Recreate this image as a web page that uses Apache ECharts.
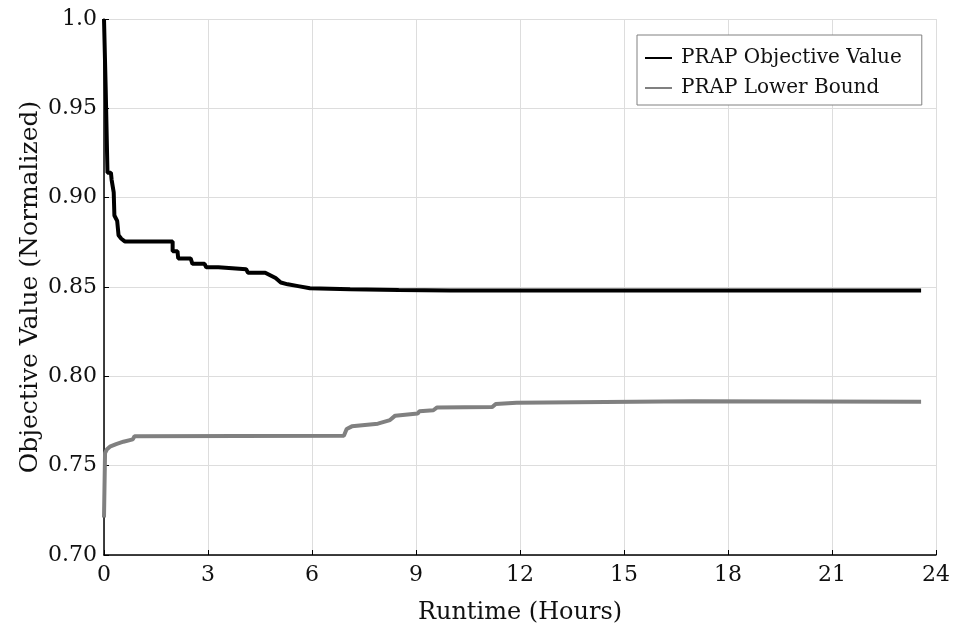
<!DOCTYPE html>
<html>
<head>
<meta charset="utf-8">
<script src="https://cdn.jsdelivr.net/npm/echarts@6/dist/echarts.min.js"></script>
<style>html,body{margin:0;padding:0;background:#fff}#c{width:954px;height:631px}</style>
</head>
<body>
<div id="c"></div>
<script>
// Data
const objHours = [0, 0.05, 0.1, 0.2, 0.22, 0.28, 0.3, 0.38, 0.42, 0.5, 0.6, 1.98, 1.98, 2.12, 2.14, 2.5, 2.55, 2.9, 2.95, 3.3, 3.35, 4.1, 4.15, 4.65, 4.95, 5.1, 5.3, 5.6, 5.94, 7.1, 8.5, 10, 23.57];
const objValues = [1.0, 0.96, 0.914, 0.914, 0.91, 0.903, 0.89, 0.887, 0.879, 0.877, 0.8755, 0.8755, 0.870, 0.870, 0.866, 0.866, 0.863, 0.863, 0.861, 0.861, 0.860, 0.860, 0.858, 0.858, 0.855, 0.8525, 0.8515, 0.8505, 0.8493, 0.8487, 0.8483, 0.848, 0.848];
const lbHours = [0, 0.03, 0.08, 0.17, 0.35, 0.56, 0.83, 0.88, 6.92, 7.0, 7.15, 7.9, 7.95, 8.25, 8.4, 9.05, 9.1, 9.5, 9.6, 11.2, 11.3, 11.9, 17, 23.57];
const lbValues = [0.721, 0.757, 0.759, 0.7606, 0.762, 0.7634, 0.7647, 0.7665, 0.7668, 0.7705, 0.772, 0.7735, 0.7745, 0.7755, 0.778, 0.7792, 0.7805, 0.781, 0.7825, 0.7828, 0.7845, 0.7852, 0.786, 0.7858];
const seriesNames = ['PRAP Objective Value', 'PRAP Lower Bound'];
const xTicks = {min: 0, max: 24, interval: 3};
const yTicks = {min: 0.70, max: 1.0, interval: 0.05};

const zip = (a, b) => a.map((v, i) => [v, b[i]]);
const font = 'DejaVu Serif';
const chart = echarts.init(document.getElementById('c'), null, {renderer: 'canvas'});
chart.setOption({
  animation: false,
  backgroundColor: '#fff',
  grid: {left: 104, right: 18, top: 19, bottom: 76, containLabel: false},
  textStyle: {fontFamily: font},
  legend: {
    left: 637, top: 35, orient: 'vertical',
    padding: [13, 20, 7, 8],
    itemGap: 10,
    borderColor: '#808080', borderWidth: 1, backgroundColor: '#fff',
    itemWidth: 27, itemHeight: 2, icon: 'rect',
    textStyle: {fontFamily: font, fontSize: 20, color: '#111', padding: [0, 0, 0, 4]},
    data: seriesNames
  },
  xAxis: {
    type: 'value', min: xTicks.min, max: xTicks.max, interval: xTicks.interval,
    name: 'Runtime (Hours)', nameLocation: 'middle', nameGap: 46,
    nameTextStyle: {fontFamily: font, fontSize: 24, color: '#111'},
    axisLine: {show: true, onZero: false, lineStyle: {color: '#000', width: 1.5}},
    axisTick: {show: true, inside: true, length: 5, lineStyle: {color: '#000'}},
    axisLabel: {fontFamily: font, fontSize: 22, color: '#111', margin: 9},
    splitLine: {show: true, lineStyle: {color: '#dddddd', width: 1}}
  },
  yAxis: {
    type: 'value', min: yTicks.min, max: yTicks.max, interval: yTicks.interval,
    name: 'Objective Value (Normalized)', nameLocation: 'middle', nameGap: 61, nameRotate: 90,
    nameMoveOverlap: false,
    nameTextStyle: {fontFamily: font, fontSize: 25, color: '#111'},
    axisLine: {show: true, onZero: false, lineStyle: {color: '#000', width: 1.5}},
    axisTick: {show: true, inside: true, length: 5, lineStyle: {color: '#000'}},
    axisLabel: {fontFamily: font, fontSize: 22, color: '#111', margin: 7,
      formatter: v => (Math.abs(v - 1) < 1e-9 ? '1.0' : v.toFixed(2))},
    splitLine: {show: true, lineStyle: {color: '#dddddd', width: 1}}
  },
  series: [
    {name: seriesNames[0], type: 'line', data: zip(objHours, objValues), showSymbol: false,
     lineStyle: {color: '#000', width: 4}, itemStyle: {color: '#000'}, z: 3},
    {name: seriesNames[1], type: 'line', data: zip(lbHours, lbValues), showSymbol: false,
     lineStyle: {color: '#808080', width: 4}, itemStyle: {color: '#808080'}, z: 2}
  ]
});
</script>
</body>
</html>
